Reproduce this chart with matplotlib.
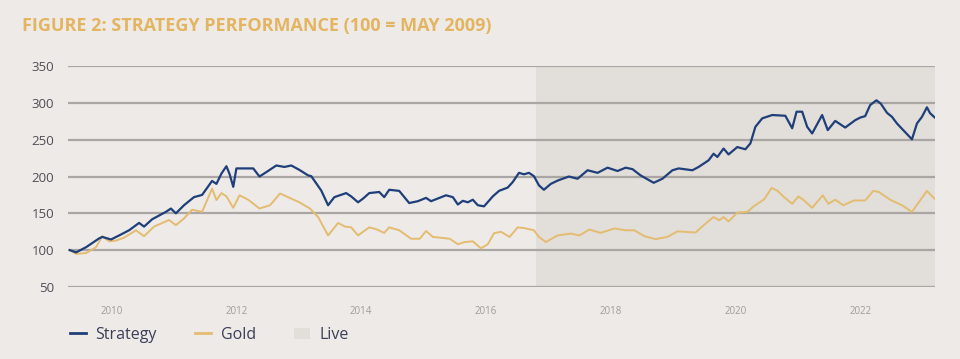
import numpy as np
import matplotlib.pyplot as plt
from matplotlib.lines import Line2D
from matplotlib.patches import Patch

# Strategy series (decimal year, index 100 = May 2009)
strategy_t = [2009.33, 2009.43, 2009.59, 2009.80, 2009.85, 2009.99, 2010.12, 2010.28,
              2010.44, 2010.52, 2010.65, 2010.87, 2010.95, 2011.03, 2011.16, 2011.32,
              2011.45, 2011.61, 2011.68, 2011.76, 2011.84, 2011.89, 2011.95, 2012.00,
              2012.27, 2012.37, 2012.48, 2012.64, 2012.77, 2012.88, 2013.01, 2013.15,
              2013.20, 2013.36, 2013.47, 2013.57, 2013.76, 2013.84, 2013.95, 2014.03,
              2014.13, 2014.29, 2014.37, 2014.45, 2014.61, 2014.77, 2014.91, 2015.04,
              2015.12, 2015.36, 2015.47, 2015.55, 2015.63, 2015.71, 2015.79, 2015.87,
              2015.97, 2016.11, 2016.21, 2016.35, 2016.43, 2016.53, 2016.61, 2016.69,
              2016.77, 2016.85, 2016.93, 2017.04, 2017.15, 2017.33, 2017.47, 2017.63,
              2017.79, 2017.95, 2018.11, 2018.24, 2018.35, 2018.48, 2018.69, 2018.83,
              2018.99, 2019.09, 2019.31, 2019.41, 2019.57, 2019.65, 2019.71, 2019.81,
              2019.89, 2020.03, 2020.16, 2020.24, 2020.32, 2020.43, 2020.59, 2020.80,
              2020.91, 2020.98, 2021.07, 2021.15, 2021.23, 2021.39, 2021.48, 2021.60,
              2021.76, 2021.92, 2022.00, 2022.08, 2022.16, 2022.26, 2022.33, 2022.43,
              2022.51, 2022.59, 2022.69, 2022.83, 2022.91, 2022.99, 2023.07, 2023.12,
              2023.19]
strategy = [100, 97, 104, 116, 118, 114.5, 120, 127,
            137, 132, 142, 152, 156.5, 150, 161, 172,
            175, 194, 190, 204, 214, 203.5, 186, 211,
            211, 200, 206, 215, 213, 215, 209, 201.5,
            200.5, 181, 161, 172, 177.5, 173, 165, 170,
            177.5, 179, 172, 182, 180.5, 164, 166.5, 171,
            166.5, 174.5, 172, 162, 167, 165, 168.5, 161,
            159.5, 173, 180.5, 185, 192.5, 205, 203, 205,
            200.5, 188, 182, 190, 194.5, 200, 197, 208.5,
            205, 212, 207.5, 212, 210, 201.5, 191.5, 197,
            208.5, 211, 208.5, 213, 222, 231, 226.5, 238,
            230, 240, 237, 245, 267.5, 279, 283.5, 282.5,
            265.5, 288, 288, 267.5, 258.5, 283.5, 263, 275.5,
            266.5, 276.5, 280, 282, 297, 303.5, 299, 286.5,
            281, 272, 263, 250.5, 272, 281, 294, 286,
            280.5]

# Gold series
gold_t = [2009.33, 2009.43, 2009.59, 2009.75, 2009.85, 2009.96, 2010.07, 2010.20,
          2010.39, 2010.52, 2010.68, 2010.92, 2011.03, 2011.16, 2011.29, 2011.45,
          2011.61, 2011.68, 2011.76, 2011.84, 2011.95, 2012.05, 2012.19, 2012.37,
          2012.54, 2012.70, 2012.88, 2013.01, 2013.18, 2013.31, 2013.47, 2013.63,
          2013.74, 2013.84, 2013.95, 2014.13, 2014.24, 2014.37, 2014.45, 2014.61,
          2014.80, 2014.94, 2015.04, 2015.15, 2015.42, 2015.55, 2015.66, 2015.79,
          2015.92, 2016.03, 2016.13, 2016.24, 2016.38, 2016.51, 2016.61, 2016.77,
          2016.85, 2016.96, 2017.15, 2017.36, 2017.50, 2017.66, 2017.84, 2018.06,
          2018.24, 2018.38, 2018.54, 2018.72, 2018.91, 2019.07, 2019.36, 2019.52,
          2019.65, 2019.74, 2019.81, 2019.89, 2020.03, 2020.19, 2020.30, 2020.46,
          2020.58, 2020.67, 2020.78, 2020.91, 2021.01, 2021.10, 2021.23, 2021.40,
          2021.49, 2021.60, 2021.73, 2021.90, 2022.08, 2022.21, 2022.30, 2022.48,
          2022.67, 2022.83, 2022.94, 2023.07, 2023.19]
gold = [100, 95, 96, 104, 119, 112, 113, 117,
        127, 119, 132, 141, 134, 143, 155, 152,
        183.5, 168, 177.5, 173, 157.5, 174.5, 168.5, 156.5,
        161, 177, 170, 165, 156.5, 145, 120, 137,
        132, 131, 120, 131, 128.5, 123.5, 131, 127,
        115.5, 115.5, 126, 118, 115.5, 108, 111, 112,
        102.5, 108, 123, 125, 118, 131, 130, 127,
        118, 111, 120, 122.5, 120, 128, 123.5, 129.5,
        127, 127, 119, 115, 118, 125.5, 124, 136,
        145, 140.5, 145, 139, 151, 152, 160, 169,
        184.5, 181, 172, 163, 173, 167.5, 157.5, 174.5,
        163, 168.5, 161, 167.5, 167.5, 180.5, 179, 168.5,
        161, 152, 165, 180.5, 170]

live_start = 2016.80
x_end = 2023.20
year_ticks = [2010, 2012, 2014, 2016, 2018, 2020, 2022]
y_ticks = [50, 100, 150, 200, 250, 300, 350]

bg = '#EEEAE7'
navy = '#1F3F7A'
gold_col = '#E4BC70'

fig = plt.figure(figsize=(9.6, 3.59), dpi=100, facecolor=bg)
ax = fig.add_axes([0.0708, 0.2006, 0.9032, 0.6154])
ax.set_facecolor(bg)

ax.axvspan(live_start, x_end, color='#E2DEDA', zorder=0, lw=0)
for v in y_ticks:
    ax.axhline(v, color='#A9A6A3', lw=1.6, zorder=1)

ax.plot(strategy_t, strategy, color=navy, lw=1.6, zorder=3)
ax.plot(gold_t, gold, color=gold_col, lw=1.4, zorder=2)

ax.set_xlim(2009.30, x_end)
ax.set_ylim(50, 350)
ax.set_yticks(y_ticks)
ax.set_xticks(year_ticks)
ax.set_xticklabels([str(y) for y in year_ticks], fontsize=7, color='#A09C9A',
                   family='Open Sans')
ax.set_yticklabels([str(v) for v in y_ticks], fontsize=9.5, color='#4E4E56',
                   family='Open Sans')
ax.tick_params(axis='both', length=0)
ax.tick_params(axis='x', pad=14)
ax.tick_params(axis='y', pad=10)
for s in ax.spines.values():
    s.set_visible(False)

fig.text(0.023, 0.928, 'FIGURE 2: STRATEGY PERFORMANCE (100 = MAY 2009)',
         fontsize=13, fontweight='bold', color='#E3B560', family='Open Sans',
         va='center')

handles = [Line2D([], [], color=navy, lw=2),
           Line2D([], [], color=gold_col, lw=2),
           Patch(facecolor='#E2DEDA', edgecolor='none')]
fig.legend(handles, ['Strategy', 'Gold', 'Live'], loc='center left',
           bbox_to_anchor=(0.058, 0.067), ncol=3, frameon=False,
           prop={'family': 'Open Sans', 'size': 11.5}, labelcolor='#3B3F57',
           handlelength=1.0, handletextpad=0.6, columnspacing=2.4)

fig.savefig('out.png', dpi=100, facecolor=bg)
